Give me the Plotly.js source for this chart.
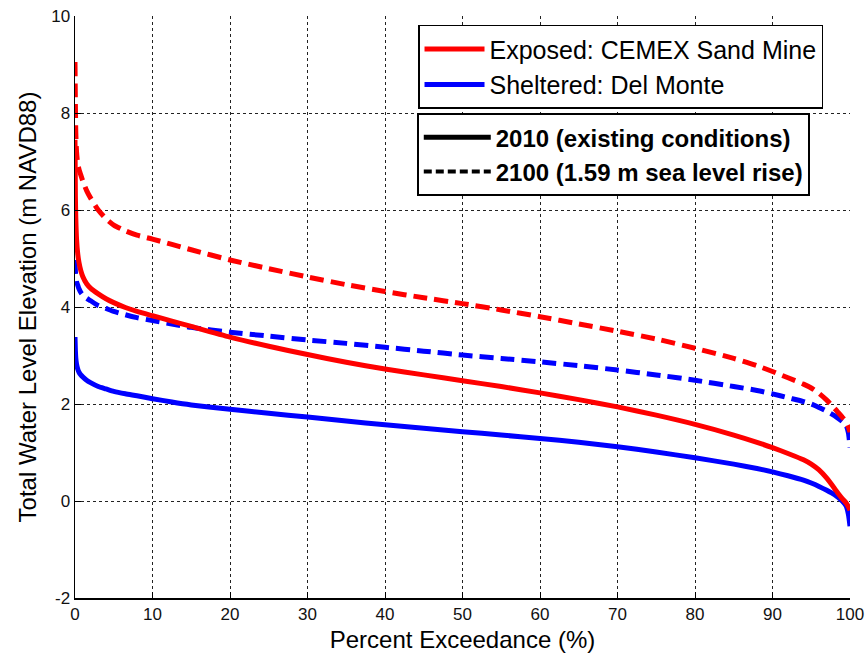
<!DOCTYPE html>
<html>
<head>
<meta charset="utf-8">
<script src="https://cdn.plot.ly/plotly-3.0.1.min.js"></script>
<style>html,body{margin:0;padding:0;background:#fff;}#chart{width:867px;height:656px;}</style>
</head>
<body>
<div id="chart"></div>
<script>
// Percent exceedance (%)
const exceedance = [0, 0.05, 0.1, 0.2, 0.35, 0.5, 0.75, 1, 1.5, 2, 3, 4, 5, 6.5, 8, 10, 12.5, 15, 20, 25, 30, 35, 40, 45, 50, 55, 60, 65, 70, 75, 80, 85, 88, 90, 92, 94, 95, 96, 97, 98, 98.5, 99, 99.5, 99.8, 100];

// Exposed: CEMEX Sand Mine, 2010 (existing conditions)
const exposed2010 = [7.45, 6.3, 5.85, 5.4, 5.1, 4.93, 4.75, 4.63, 4.48, 4.39, 4.27, 4.17, 4.09, 3.99, 3.91, 3.82, 3.71, 3.6, 3.38, 3.19, 3.02, 2.86, 2.72, 2.6, 2.48, 2.36, 2.23, 2.09, 1.94, 1.77, 1.58, 1.36, 1.21, 1.1, 0.98, 0.85, 0.76, 0.64, 0.47, 0.26, 0.15, 0.05, -0.04, -0.12, -0.19];
// Exposed: CEMEX Sand Mine, 2100 (1.59 m sea level rise)
const exposed2100 = [9.05, 8.2, 7.6, 7.2, 6.95, 6.85, 6.72, 6.6, 6.4, 6.25, 6.0, 5.82, 5.69, 5.57, 5.48, 5.4, 5.29, 5.18, 4.97, 4.79, 4.62, 4.46, 4.32, 4.19, 4.07, 3.94, 3.8, 3.65, 3.5, 3.34, 3.15, 2.94, 2.79, 2.67, 2.54, 2.41, 2.33, 2.22, 2.08, 1.91, 1.82, 1.73, 1.63, 1.52, 1.42];
// Sheltered: Del Monte, 2010
const sheltered2010 = [3.38, 3.1, 2.95, 2.82, 2.72, 2.66, 2.6, 2.56, 2.49, 2.44, 2.36, 2.31, 2.26, 2.21, 2.17, 2.11, 2.04, 1.98, 1.89, 1.81, 1.73, 1.65, 1.57, 1.5, 1.43, 1.36, 1.29, 1.21, 1.12, 1.01, 0.89, 0.76, 0.67, 0.6, 0.52, 0.43, 0.37, 0.3, 0.22, 0.13, 0.07, 0.0, -0.1, -0.28, -0.52];
// Sheltered: Del Monte, 2100
const sheltered2100 = [4.97, 4.75, 4.62, 4.52, 4.45, 4.38, 4.3, 4.25, 4.18, 4.13, 4.03, 3.97, 3.91, 3.84, 3.78, 3.72, 3.65, 3.58, 3.48, 3.4, 3.32, 3.25, 3.17, 3.09, 3.01, 2.94, 2.87, 2.79, 2.7, 2.6, 2.49, 2.36, 2.28, 2.21, 2.13, 2.05, 2.0, 1.93, 1.85, 1.76, 1.7, 1.64, 1.56, 1.4, 1.1];

const xTicks = [0, 10, 20, 30, 40, 50, 60, 70, 80, 90, 100];
const yTicks = [-2, 0, 2, 4, 6, 8, 10];

const siteNames = ["Exposed: CEMEX Sand Mine", "Sheltered: Del Monte"];
const scenarioNames = ["2010 (existing conditions)", "2100 (1.59 m sea level rise)"];

const RED = "#ff0000", BLUE = "#0000ff";
const LW = 5;
const DASH = "14px,7px";
const FONT = "Liberation Sans, Arial, sans-serif";

const traces = [
  {x: exceedance, y: sheltered2100, mode: "lines", line: {color: BLUE, width: LW, dash: DASH, shape: "spline", smoothing: 0.6}, showlegend: false},
  {x: exceedance, y: exposed2100, mode: "lines", line: {color: RED, width: LW, dash: DASH, shape: "spline", smoothing: 0.6}, showlegend: false},
  {x: exceedance, y: sheltered2010, mode: "lines", name: siteNames[1], line: {color: BLUE, width: LW, shape: "spline", smoothing: 0.6}, legendrank: 2},
  {x: exceedance, y: exposed2010, mode: "lines", name: siteNames[0], line: {color: RED, width: LW, shape: "spline", smoothing: 0.6}, legendrank: 1},
  {x: [null], y: [null], mode: "lines", name: "<b>" + scenarioNames[0] + "</b>", line: {color: "#000", width: LW}, legend: "legend2", legendrank: 1},
  {x: [null], y: [null], mode: "lines", name: "<b>" + scenarioNames[1] + "</b>", line: {color: "#000", width: 4, dash: "8px,4px"}, legend: "legend2", legendrank: 2}
];

const layout = {
  width: 867, height: 656,
  margin: {l: 75, r: 17, t: 16, b: 58},
  paper_bgcolor: "#fff", plot_bgcolor: "#fff",
  font: {family: FONT, color: "#000"},
  showlegend: true,
  xaxis: {
    range: [0, 100], tickvals: xTicks, ticktext: xTicks.map(String),
    showgrid: true, gridcolor: "#222", gridwidth: 1, griddash: "3px,3px",
    zeroline: false, showline: true, linecolor: "#000", linewidth: 1.5,
    ticks: "inside", ticklen: 6, tickcolor: "#000", tickwidth: 1,
    tickfont: {size: 17, color: "#111", family: FONT},
    title: {text: "Percent Exceedance (%)", font: {size: 24, family: FONT, color: "#000"}, standoff: 8},
    automargin: false, fixedrange: true
  },
  yaxis: {
    range: [-2, 10], tickvals: yTicks, ticktext: yTicks.map(String),
    showgrid: true, gridcolor: "#222", gridwidth: 1, griddash: "3px,3px",
    zeroline: false, showline: true, linecolor: "#000", linewidth: 1.5,
    ticks: "inside", ticklen: 6, tickcolor: "#000", tickwidth: 1,
    tickfont: {size: 17, color: "#111", family: FONT},
    title: {text: "Total Water Level Elevation (m NAVD88)", font: {size: 24, family: FONT, color: "#000"}, standoff: 8},
    automargin: false, fixedrange: true
  },
  legend: {
    x: 0.4426, y: 0.985, xanchor: "left", yanchor: "top",
    bgcolor: "#fff", bordercolor: "#000", borderwidth: 1.5,
    font: {size: 25, family: FONT, color: "#000"},
    itemwidth: 60, tracegroupgap: 0,
    traceorder: "normal", itemclick: false, itemdoubleclick: false
  },
  legend2: {
    x: 0.441, y: 0.833, xanchor: "left", yanchor: "top",
    bgcolor: "#fff", bordercolor: "#000", borderwidth: 2,
    font: {size: 24, family: FONT, color: "#000"},
    itemwidth: 67,
    traceorder: "normal", itemclick: false, itemdoubleclick: false
  }
};

Plotly.newPlot("chart", traces, layout, {staticPlot: true, displayModeBar: false});
</script>
</body>
</html>
